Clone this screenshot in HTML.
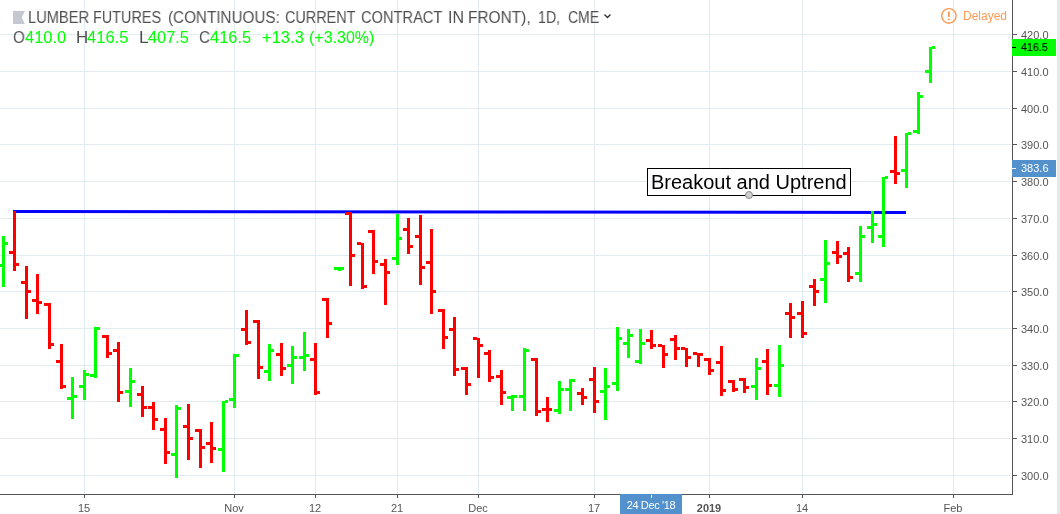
<!DOCTYPE html>
<html><head><meta charset="utf-8"><style>
html,body{margin:0;padding:0;background:#fff;}
body{width:1060px;height:514px;overflow:hidden;position:relative;font-family:"Liberation Sans",sans-serif;}
svg{position:absolute;left:0;top:0;}
.t{position:absolute;white-space:pre;will-change:transform;}
</style></head><body>
<svg width="1060" height="514" viewBox="0 0 1060 514" shape-rendering="crispEdges">
<rect x="84" y="0" width="1" height="493" fill="#e1ecf2"/>
<rect x="234" y="0" width="1" height="493" fill="#e1ecf2"/>
<rect x="315" y="0" width="1" height="493" fill="#e1ecf2"/>
<rect x="397" y="0" width="1" height="493" fill="#e1ecf2"/>
<rect x="478" y="0" width="1" height="493" fill="#e1ecf2"/>
<rect x="594" y="0" width="1" height="493" fill="#e1ecf2"/>
<rect x="709" y="0" width="1" height="493" fill="#e1ecf2"/>
<rect x="802" y="0" width="1" height="493" fill="#e1ecf2"/>
<rect x="953" y="0" width="1" height="493" fill="#e1ecf2"/>
<rect x="0" y="34" width="1011" height="1" fill="#e1ecf2"/>
<rect x="0" y="71" width="1011" height="1" fill="#e1ecf2"/>
<rect x="0" y="108" width="1011" height="1" fill="#e1ecf2"/>
<rect x="0" y="144" width="1011" height="1" fill="#e1ecf2"/>
<rect x="0" y="181" width="1011" height="1" fill="#e1ecf2"/>
<rect x="0" y="218" width="1011" height="1" fill="#e1ecf2"/>
<rect x="0" y="255" width="1011" height="1" fill="#e1ecf2"/>
<rect x="0" y="291" width="1011" height="1" fill="#e1ecf2"/>
<rect x="0" y="328" width="1011" height="1" fill="#e1ecf2"/>
<rect x="0" y="365" width="1011" height="1" fill="#e1ecf2"/>
<rect x="0" y="401" width="1011" height="1" fill="#e1ecf2"/>
<rect x="0" y="438" width="1011" height="1" fill="#e1ecf2"/>
<rect x="0" y="475" width="1011" height="1" fill="#e1ecf2"/>
<line x1="13" y1="211.4" x2="906" y2="212.4" stroke="#0000ff" stroke-width="3" shape-rendering="auto"/>
<rect x="2" y="236" width="3" height="51" fill="#00ff00"/>
<rect x="-2" y="264" width="4" height="3" fill="#00ff00"/>
<rect x="5" y="242" width="3" height="3" fill="#00ff00"/>
<rect x="13" y="211" width="3" height="60" fill="#ff0000"/>
<rect x="9" y="251" width="4" height="3" fill="#ff0000"/>
<rect x="16" y="263" width="3" height="3" fill="#ff0000"/>
<rect x="25" y="266" width="3" height="53" fill="#ff0000"/>
<rect x="21" y="281" width="4" height="3" fill="#ff0000"/>
<rect x="28" y="290" width="3" height="3" fill="#ff0000"/>
<rect x="36" y="274" width="3" height="40" fill="#ff0000"/>
<rect x="32" y="299" width="4" height="3" fill="#ff0000"/>
<rect x="39" y="301" width="3" height="3" fill="#ff0000"/>
<rect x="48" y="303" width="3" height="46" fill="#ff0000"/>
<rect x="44" y="303" width="4" height="3" fill="#ff0000"/>
<rect x="51" y="343" width="3" height="3" fill="#ff0000"/>
<rect x="60" y="344" width="3" height="45" fill="#ff0000"/>
<rect x="56" y="360" width="4" height="3" fill="#ff0000"/>
<rect x="63" y="385" width="3" height="3" fill="#ff0000"/>
<rect x="71" y="377" width="3" height="42" fill="#00ff00"/>
<rect x="67" y="397" width="4" height="3" fill="#00ff00"/>
<rect x="74" y="395" width="3" height="3" fill="#00ff00"/>
<rect x="83" y="370" width="3" height="30" fill="#00ff00"/>
<rect x="79" y="385" width="4" height="3" fill="#00ff00"/>
<rect x="86" y="373" width="3" height="3" fill="#00ff00"/>
<rect x="94" y="327" width="3" height="51" fill="#00ff00"/>
<rect x="90" y="374" width="4" height="3" fill="#00ff00"/>
<rect x="97" y="327" width="3" height="3" fill="#00ff00"/>
<rect x="106" y="335" width="3" height="23" fill="#ff0000"/>
<rect x="102" y="335" width="4" height="3" fill="#ff0000"/>
<rect x="109" y="352" width="3" height="3" fill="#ff0000"/>
<rect x="117" y="342" width="3" height="60" fill="#ff0000"/>
<rect x="113" y="349" width="4" height="3" fill="#ff0000"/>
<rect x="120" y="391" width="3" height="3" fill="#ff0000"/>
<rect x="129" y="368" width="3" height="39" fill="#00ff00"/>
<rect x="125" y="390" width="4" height="3" fill="#00ff00"/>
<rect x="132" y="380" width="3" height="3" fill="#00ff00"/>
<rect x="141" y="386" width="3" height="31" fill="#ff0000"/>
<rect x="137" y="393" width="4" height="3" fill="#ff0000"/>
<rect x="144" y="406" width="3" height="3" fill="#ff0000"/>
<rect x="152" y="402" width="3" height="28" fill="#ff0000"/>
<rect x="148" y="406" width="4" height="3" fill="#ff0000"/>
<rect x="155" y="418" width="3" height="3" fill="#ff0000"/>
<rect x="164" y="418" width="3" height="46" fill="#ff0000"/>
<rect x="160" y="428" width="4" height="3" fill="#ff0000"/>
<rect x="167" y="451" width="3" height="3" fill="#ff0000"/>
<rect x="175" y="405" width="3" height="73" fill="#00ff00"/>
<rect x="171" y="453" width="4" height="3" fill="#00ff00"/>
<rect x="178" y="407" width="3" height="3" fill="#00ff00"/>
<rect x="187" y="404" width="3" height="56" fill="#ff0000"/>
<rect x="183" y="425" width="4" height="3" fill="#ff0000"/>
<rect x="190" y="437" width="3" height="3" fill="#ff0000"/>
<rect x="199" y="429" width="3" height="39" fill="#ff0000"/>
<rect x="195" y="429" width="4" height="3" fill="#ff0000"/>
<rect x="202" y="446" width="3" height="3" fill="#ff0000"/>
<rect x="210" y="422" width="3" height="41" fill="#ff0000"/>
<rect x="206" y="442" width="4" height="3" fill="#ff0000"/>
<rect x="213" y="447" width="3" height="3" fill="#ff0000"/>
<rect x="222" y="401" width="3" height="71" fill="#00ff00"/>
<rect x="218" y="448" width="4" height="3" fill="#00ff00"/>
<rect x="225" y="400" width="3" height="3" fill="#00ff00"/>
<rect x="233" y="354" width="3" height="54" fill="#00ff00"/>
<rect x="229" y="398" width="4" height="3" fill="#00ff00"/>
<rect x="236" y="354" width="3" height="3" fill="#00ff00"/>
<rect x="245" y="310" width="3" height="35" fill="#ff0000"/>
<rect x="241" y="328" width="4" height="3" fill="#ff0000"/>
<rect x="248" y="341" width="3" height="3" fill="#ff0000"/>
<rect x="257" y="320" width="3" height="59" fill="#ff0000"/>
<rect x="253" y="320" width="4" height="3" fill="#ff0000"/>
<rect x="260" y="366" width="3" height="3" fill="#ff0000"/>
<rect x="268" y="344" width="3" height="37" fill="#00ff00"/>
<rect x="264" y="370" width="4" height="3" fill="#00ff00"/>
<rect x="271" y="349" width="3" height="3" fill="#00ff00"/>
<rect x="280" y="343" width="3" height="33" fill="#ff0000"/>
<rect x="276" y="353" width="4" height="3" fill="#ff0000"/>
<rect x="283" y="367" width="3" height="3" fill="#ff0000"/>
<rect x="291" y="346" width="3" height="38" fill="#00ff00"/>
<rect x="287" y="364" width="4" height="3" fill="#00ff00"/>
<rect x="294" y="356" width="3" height="3" fill="#00ff00"/>
<rect x="303" y="332" width="3" height="39" fill="#00ff00"/>
<rect x="299" y="356" width="4" height="3" fill="#00ff00"/>
<rect x="306" y="354" width="3" height="3" fill="#00ff00"/>
<rect x="314" y="343" width="3" height="52" fill="#ff0000"/>
<rect x="310" y="358" width="4" height="3" fill="#ff0000"/>
<rect x="317" y="391" width="3" height="3" fill="#ff0000"/>
<rect x="326" y="298" width="3" height="40" fill="#ff0000"/>
<rect x="322" y="298" width="4" height="3" fill="#ff0000"/>
<rect x="329" y="322" width="3" height="3" fill="#ff0000"/>
<rect x="338" y="267" width="3" height="4" fill="#00ff00"/>
<rect x="334" y="267" width="4" height="3" fill="#00ff00"/>
<rect x="341" y="267" width="3" height="3" fill="#00ff00"/>
<rect x="349" y="212" width="3" height="74" fill="#ff0000"/>
<rect x="345" y="212" width="4" height="3" fill="#ff0000"/>
<rect x="352" y="254" width="3" height="3" fill="#ff0000"/>
<rect x="361" y="243" width="3" height="46" fill="#ff0000"/>
<rect x="357" y="242" width="4" height="3" fill="#ff0000"/>
<rect x="364" y="285" width="3" height="3" fill="#ff0000"/>
<rect x="372" y="230" width="3" height="44" fill="#ff0000"/>
<rect x="368" y="230" width="4" height="3" fill="#ff0000"/>
<rect x="375" y="260" width="3" height="3" fill="#ff0000"/>
<rect x="384" y="259" width="3" height="46" fill="#ff0000"/>
<rect x="380" y="263" width="4" height="3" fill="#ff0000"/>
<rect x="387" y="271" width="3" height="3" fill="#ff0000"/>
<rect x="396" y="214" width="3" height="51" fill="#00ff00"/>
<rect x="392" y="257" width="4" height="3" fill="#00ff00"/>
<rect x="399" y="237" width="3" height="3" fill="#00ff00"/>
<rect x="407" y="218" width="3" height="36" fill="#ff0000"/>
<rect x="403" y="228" width="4" height="3" fill="#ff0000"/>
<rect x="410" y="245" width="3" height="3" fill="#ff0000"/>
<rect x="419" y="215" width="3" height="70" fill="#ff0000"/>
<rect x="415" y="235" width="4" height="3" fill="#ff0000"/>
<rect x="422" y="266" width="3" height="3" fill="#ff0000"/>
<rect x="430" y="229" width="3" height="85" fill="#ff0000"/>
<rect x="426" y="261" width="4" height="3" fill="#ff0000"/>
<rect x="433" y="290" width="3" height="3" fill="#ff0000"/>
<rect x="442" y="309" width="3" height="40" fill="#ff0000"/>
<rect x="438" y="309" width="4" height="3" fill="#ff0000"/>
<rect x="445" y="336" width="3" height="3" fill="#ff0000"/>
<rect x="453" y="317" width="3" height="59" fill="#ff0000"/>
<rect x="449" y="328" width="4" height="3" fill="#ff0000"/>
<rect x="456" y="368" width="3" height="3" fill="#ff0000"/>
<rect x="465" y="367" width="3" height="28" fill="#ff0000"/>
<rect x="461" y="367" width="4" height="3" fill="#ff0000"/>
<rect x="468" y="383" width="3" height="3" fill="#ff0000"/>
<rect x="477" y="338" width="3" height="40" fill="#ff0000"/>
<rect x="473" y="337" width="4" height="3" fill="#ff0000"/>
<rect x="480" y="344" width="3" height="3" fill="#ff0000"/>
<rect x="488" y="350" width="3" height="32" fill="#ff0000"/>
<rect x="484" y="352" width="4" height="3" fill="#ff0000"/>
<rect x="491" y="376" width="3" height="3" fill="#ff0000"/>
<rect x="500" y="370" width="3" height="35" fill="#ff0000"/>
<rect x="496" y="375" width="4" height="3" fill="#ff0000"/>
<rect x="503" y="391" width="3" height="3" fill="#ff0000"/>
<rect x="511" y="395" width="3" height="16" fill="#00ff00"/>
<rect x="507" y="396" width="4" height="3" fill="#00ff00"/>
<rect x="514" y="395" width="3" height="3" fill="#00ff00"/>
<rect x="523" y="348" width="3" height="63" fill="#00ff00"/>
<rect x="519" y="395" width="4" height="3" fill="#00ff00"/>
<rect x="526" y="349" width="3" height="3" fill="#00ff00"/>
<rect x="535" y="358" width="3" height="58" fill="#ff0000"/>
<rect x="531" y="358" width="4" height="3" fill="#ff0000"/>
<rect x="538" y="410" width="3" height="3" fill="#ff0000"/>
<rect x="546" y="397" width="3" height="25" fill="#ff0000"/>
<rect x="542" y="408" width="4" height="3" fill="#ff0000"/>
<rect x="549" y="408" width="3" height="3" fill="#ff0000"/>
<rect x="558" y="381" width="3" height="33" fill="#00ff00"/>
<rect x="554" y="409" width="4" height="3" fill="#00ff00"/>
<rect x="561" y="388" width="3" height="3" fill="#00ff00"/>
<rect x="569" y="379" width="3" height="32" fill="#00ff00"/>
<rect x="565" y="388" width="4" height="3" fill="#00ff00"/>
<rect x="572" y="379" width="3" height="3" fill="#00ff00"/>
<rect x="581" y="388" width="3" height="17" fill="#ff0000"/>
<rect x="577" y="392" width="4" height="3" fill="#ff0000"/>
<rect x="584" y="396" width="3" height="3" fill="#ff0000"/>
<rect x="593" y="367" width="3" height="46" fill="#ff0000"/>
<rect x="589" y="378" width="4" height="3" fill="#ff0000"/>
<rect x="596" y="400" width="3" height="3" fill="#ff0000"/>
<rect x="604" y="368" width="3" height="52" fill="#00ff00"/>
<rect x="600" y="390" width="4" height="3" fill="#00ff00"/>
<rect x="607" y="385" width="3" height="3" fill="#00ff00"/>
<rect x="616" y="327" width="3" height="64" fill="#00ff00"/>
<rect x="612" y="382" width="4" height="3" fill="#00ff00"/>
<rect x="619" y="337" width="3" height="3" fill="#00ff00"/>
<rect x="627" y="329" width="3" height="29" fill="#00ff00"/>
<rect x="623" y="342" width="4" height="3" fill="#00ff00"/>
<rect x="630" y="334" width="3" height="3" fill="#00ff00"/>
<rect x="639" y="329" width="3" height="35" fill="#00ff00"/>
<rect x="635" y="360" width="4" height="3" fill="#00ff00"/>
<rect x="642" y="342" width="3" height="3" fill="#00ff00"/>
<rect x="650" y="330" width="3" height="19" fill="#ff0000"/>
<rect x="646" y="339" width="4" height="3" fill="#ff0000"/>
<rect x="653" y="344" width="3" height="3" fill="#ff0000"/>
<rect x="662" y="345" width="3" height="23" fill="#ff0000"/>
<rect x="658" y="344" width="4" height="3" fill="#ff0000"/>
<rect x="665" y="353" width="3" height="3" fill="#ff0000"/>
<rect x="674" y="335" width="3" height="25" fill="#ff0000"/>
<rect x="670" y="338" width="4" height="3" fill="#ff0000"/>
<rect x="677" y="347" width="3" height="3" fill="#ff0000"/>
<rect x="685" y="348" width="3" height="19" fill="#ff0000"/>
<rect x="681" y="347" width="4" height="3" fill="#ff0000"/>
<rect x="688" y="356" width="3" height="3" fill="#ff0000"/>
<rect x="697" y="353" width="3" height="14" fill="#ff0000"/>
<rect x="693" y="352" width="4" height="3" fill="#ff0000"/>
<rect x="700" y="353" width="3" height="3" fill="#ff0000"/>
<rect x="708" y="358" width="3" height="17" fill="#ff0000"/>
<rect x="704" y="358" width="4" height="3" fill="#ff0000"/>
<rect x="711" y="369" width="3" height="3" fill="#ff0000"/>
<rect x="720" y="346" width="3" height="50" fill="#ff0000"/>
<rect x="716" y="361" width="4" height="3" fill="#ff0000"/>
<rect x="723" y="389" width="3" height="3" fill="#ff0000"/>
<rect x="732" y="380" width="3" height="12" fill="#ff0000"/>
<rect x="728" y="380" width="4" height="3" fill="#ff0000"/>
<rect x="735" y="388" width="3" height="3" fill="#ff0000"/>
<rect x="743" y="378" width="3" height="15" fill="#ff0000"/>
<rect x="739" y="378" width="4" height="3" fill="#ff0000"/>
<rect x="746" y="386" width="3" height="3" fill="#ff0000"/>
<rect x="755" y="358" width="3" height="42" fill="#00ff00"/>
<rect x="751" y="385" width="4" height="3" fill="#00ff00"/>
<rect x="758" y="367" width="3" height="3" fill="#00ff00"/>
<rect x="766" y="349" width="3" height="46" fill="#ff0000"/>
<rect x="762" y="360" width="4" height="3" fill="#ff0000"/>
<rect x="769" y="384" width="3" height="3" fill="#ff0000"/>
<rect x="778" y="345" width="3" height="52" fill="#00ff00"/>
<rect x="774" y="384" width="4" height="3" fill="#00ff00"/>
<rect x="781" y="364" width="3" height="3" fill="#00ff00"/>
<rect x="789" y="303" width="3" height="35" fill="#ff0000"/>
<rect x="785" y="312" width="4" height="3" fill="#ff0000"/>
<rect x="792" y="316" width="3" height="3" fill="#ff0000"/>
<rect x="801" y="301" width="3" height="37" fill="#ff0000"/>
<rect x="797" y="312" width="4" height="3" fill="#ff0000"/>
<rect x="804" y="332" width="3" height="3" fill="#ff0000"/>
<rect x="813" y="279" width="3" height="27" fill="#ff0000"/>
<rect x="809" y="285" width="4" height="3" fill="#ff0000"/>
<rect x="816" y="290" width="3" height="3" fill="#ff0000"/>
<rect x="824" y="240" width="3" height="63" fill="#00ff00"/>
<rect x="820" y="278" width="4" height="3" fill="#00ff00"/>
<rect x="827" y="262" width="3" height="3" fill="#00ff00"/>
<rect x="836" y="241" width="3" height="23" fill="#ff0000"/>
<rect x="832" y="251" width="4" height="3" fill="#ff0000"/>
<rect x="839" y="255" width="3" height="3" fill="#ff0000"/>
<rect x="847" y="247" width="3" height="35" fill="#ff0000"/>
<rect x="843" y="252" width="4" height="3" fill="#ff0000"/>
<rect x="850" y="276" width="3" height="3" fill="#ff0000"/>
<rect x="859" y="226" width="3" height="56" fill="#00ff00"/>
<rect x="855" y="272" width="4" height="3" fill="#00ff00"/>
<rect x="862" y="235" width="3" height="3" fill="#00ff00"/>
<rect x="871" y="211" width="3" height="32" fill="#00ff00"/>
<rect x="867" y="226" width="4" height="3" fill="#00ff00"/>
<rect x="874" y="223" width="3" height="3" fill="#00ff00"/>
<rect x="882" y="177" width="3" height="70" fill="#00ff00"/>
<rect x="878" y="235" width="4" height="3" fill="#00ff00"/>
<rect x="885" y="176" width="3" height="3" fill="#00ff00"/>
<rect x="894" y="136" width="3" height="48" fill="#ff0000"/>
<rect x="890" y="170" width="4" height="3" fill="#ff0000"/>
<rect x="897" y="172" width="3" height="3" fill="#ff0000"/>
<rect x="905" y="133" width="3" height="55" fill="#00ff00"/>
<rect x="901" y="169" width="4" height="3" fill="#00ff00"/>
<rect x="908" y="132" width="3" height="3" fill="#00ff00"/>
<rect x="917" y="92" width="3" height="42" fill="#00ff00"/>
<rect x="913" y="130" width="4" height="3" fill="#00ff00"/>
<rect x="920" y="95" width="3" height="3" fill="#00ff00"/>
<rect x="929" y="47" width="3" height="36" fill="#00ff00"/>
<rect x="925" y="70" width="4" height="3" fill="#00ff00"/>
<rect x="932" y="46" width="3" height="3" fill="#00ff00"/>
<rect x="1012" y="0" width="1" height="495" fill="#555555"/>
<rect x="0" y="494" width="1013" height="1" fill="#555555"/>
<rect x="1013" y="34" width="4" height="1" fill="#555555"/>
<rect x="1013" y="71" width="4" height="1" fill="#555555"/>
<rect x="1013" y="108" width="4" height="1" fill="#555555"/>
<rect x="1013" y="144" width="4" height="1" fill="#555555"/>
<rect x="1013" y="181" width="4" height="1" fill="#555555"/>
<rect x="1013" y="218" width="4" height="1" fill="#555555"/>
<rect x="1013" y="255" width="4" height="1" fill="#555555"/>
<rect x="1013" y="291" width="4" height="1" fill="#555555"/>
<rect x="1013" y="328" width="4" height="1" fill="#555555"/>
<rect x="1013" y="365" width="4" height="1" fill="#555555"/>
<rect x="1013" y="401" width="4" height="1" fill="#555555"/>
<rect x="1013" y="438" width="4" height="1" fill="#555555"/>
<rect x="1013" y="475" width="4" height="1" fill="#555555"/>
<rect x="84" y="495" width="1" height="3" fill="#555555"/>
<rect x="234" y="495" width="1" height="3" fill="#555555"/>
<rect x="315" y="495" width="1" height="3" fill="#555555"/>
<rect x="397" y="495" width="1" height="3" fill="#555555"/>
<rect x="478" y="495" width="1" height="3" fill="#555555"/>
<rect x="594" y="495" width="1" height="3" fill="#555555"/>
<rect x="709" y="495" width="1" height="3" fill="#555555"/>
<rect x="802" y="495" width="1" height="3" fill="#555555"/>
<rect x="953" y="495" width="1" height="3" fill="#555555"/>
<rect x="1057" y="0" width="3" height="514" fill="#e4e8ec"/>
<rect x="1012" y="39" width="44" height="17" fill="#00ff00"/>
<rect x="1012" y="47" width="4" height="1" fill="#000"/>
<rect x="1012" y="160" width="44" height="17" fill="#5291cc"/>
<rect x="1012" y="168" width="4" height="1" fill="#fff"/>
<rect x="620" y="494" width="62" height="20" fill="#5291cc"/>
<rect x="651" y="495" width="1" height="3" fill="#fff"/>
<rect x="647.5" y="168.5" width="203" height="27" fill="#fff" stroke="#000" stroke-width="1"/>
<circle cx="749" cy="195" r="3.5" fill="#cfcfcf" stroke="#8a8a8a" stroke-width="1" shape-rendering="auto"/>
<path d="M13 11 H25 L21.6 17.5 L25 24 H13 Z" fill="#c5c8d0" shape-rendering="auto"/>
<circle cx="948.9" cy="15.85" r="7.2" fill="none" stroke="#ff9a55" stroke-width="1.4" shape-rendering="auto"/>
<rect x="948" y="11.5" width="1.8" height="5.5" fill="#ff9a55" shape-rendering="auto"/>
<rect x="948" y="18.6" width="1.8" height="1.6" fill="#ff9a55" shape-rendering="auto"/>
<path d="M604.5 14.5 L607.5 17.5 L610.5 14.5" fill="none" stroke="#2a2e39" stroke-width="1.3" shape-rendering="auto"/>
</svg>
<div class="t" style="left:28.28px;top:10.00px;font-size:16px;line-height:16px;color:#4f4f4f;font-weight:400;letter-spacing:0px;transform:scaleX(0.9154);transform-origin:0 0;">LUMBER</div>
<div class="t" style="left:93.4px;top:10.00px;font-size:16px;line-height:16px;color:#4f4f4f;font-weight:400;letter-spacing:0px;transform:scaleX(0.9000);transform-origin:0 0;">FUTURES</div>
<div class="t" style="left:167.85px;top:10.00px;font-size:16px;line-height:16px;color:#4f4f4f;font-weight:400;letter-spacing:0px;transform:scaleX(0.9522);transform-origin:0 0;">(CONTINUOUS:</div>
<div class="t" style="left:284.6px;top:10.00px;font-size:16px;line-height:16px;color:#4f4f4f;font-weight:400;letter-spacing:0px;transform:scaleX(0.9000);transform-origin:0 0;">CURRENT</div>
<div class="t" style="left:360.68px;top:10.00px;font-size:16px;line-height:16px;color:#4f4f4f;font-weight:400;letter-spacing:0px;transform:scaleX(0.9159);transform-origin:0 0;">CONTRACT</div>
<div class="t" style="left:448.33px;top:10.00px;font-size:16px;line-height:16px;color:#4f4f4f;font-weight:400;letter-spacing:0px;transform:scaleX(0.9714);transform-origin:0 0;">IN</div>
<div class="t" style="left:468.23px;top:10.00px;font-size:16px;line-height:16px;color:#4f4f4f;font-weight:400;letter-spacing:0px;transform:scaleX(0.9651);transform-origin:0 0;">FRONT),</div>
<div class="t" style="left:537.62px;top:10.00px;font-size:16px;line-height:16px;color:#4f4f4f;font-weight:400;letter-spacing:0px;transform:scaleX(0.8826);transform-origin:0 0;">1D,</div>
<div class="t" style="left:568.13px;top:10.00px;font-size:16px;line-height:16px;color:#4f4f4f;font-weight:400;letter-spacing:0px;transform:scaleX(0.8735);transform-origin:0 0;">CME</div>
<div class="t" style="left:12.65px;top:30.00px;font-size:16px;line-height:16px;color:#4f4f4f;font-weight:400;letter-spacing:0px;transform:scaleX(0.9455);transform-origin:0 0;">O</div>
<div class="t" style="left:24.7px;top:30.00px;font-size:16px;line-height:16px;color:#00ff00;font-weight:400;letter-spacing:0px;transform:scaleX(1.0300);transform-origin:0 0;">410.0</div>
<div class="t" style="left:76.14px;top:30.00px;font-size:16px;line-height:16px;color:#4f4f4f;font-weight:400;letter-spacing:0px;transform:scaleX(1.0556);transform-origin:0 0;">H</div>
<div class="t" style="left:87.4px;top:30.00px;font-size:16px;line-height:16px;color:#00ff00;font-weight:400;letter-spacing:0px;transform:scaleX(1.0325);transform-origin:0 0;">416.5</div>
<div class="t" style="left:139.2px;top:30.00px;font-size:16px;line-height:16px;color:#4f4f4f;font-weight:400;letter-spacing:0px;transform:scaleX(1.1000);transform-origin:0 0;">L</div>
<div class="t" style="left:148.4px;top:30.00px;font-size:16px;line-height:16px;color:#00ff00;font-weight:400;letter-spacing:0px;transform:scaleX(1.0200);transform-origin:0 0;">407.5</div>
<div class="t" style="left:198.95px;top:30.00px;font-size:16px;line-height:16px;color:#4f4f4f;font-weight:400;letter-spacing:0px;transform:scaleX(0.9500);transform-origin:0 0;">C</div>
<div class="t" style="left:209.7px;top:30.00px;font-size:16px;line-height:16px;color:#00ff00;font-weight:400;letter-spacing:0px;transform:scaleX(1.0300);transform-origin:0 0;">416.5</div>
<div class="t" style="left:261.57px;top:30.00px;font-size:16px;line-height:16px;color:#00ff00;font-weight:400;letter-spacing:0px;transform:scaleX(1.0333);transform-origin:0 0;">+13.3</div>
<div class="t" style="left:309.1px;top:30.00px;font-size:16px;line-height:16px;color:#00ff00;font-weight:400;letter-spacing:0px;transform:scaleX(0.9952);transform-origin:0 0;">(+3.30%)</div>
<div class="t" style="left:962.6px;top:10.00px;font-size:12px;line-height:12px;color:#ff9a55;font-weight:400;letter-spacing:0px;">Delayed</div>
<div class="t" style="left:1021px;top:30.00px;font-size:11px;line-height:11px;color:#555555;font-weight:400;letter-spacing:0px;">420.0</div>
<div class="t" style="left:1021px;top:67.00px;font-size:11px;line-height:11px;color:#555555;font-weight:400;letter-spacing:0px;">410.0</div>
<div class="t" style="left:1021px;top:104.00px;font-size:11px;line-height:11px;color:#555555;font-weight:400;letter-spacing:0px;">400.0</div>
<div class="t" style="left:1021px;top:140.00px;font-size:11px;line-height:11px;color:#555555;font-weight:400;letter-spacing:0px;">390.0</div>
<div class="t" style="left:1021px;top:177.00px;font-size:11px;line-height:11px;color:#555555;font-weight:400;letter-spacing:0px;">380.0</div>
<div class="t" style="left:1021px;top:214.00px;font-size:11px;line-height:11px;color:#555555;font-weight:400;letter-spacing:0px;">370.0</div>
<div class="t" style="left:1021px;top:251.00px;font-size:11px;line-height:11px;color:#555555;font-weight:400;letter-spacing:0px;">360.0</div>
<div class="t" style="left:1021px;top:287.00px;font-size:11px;line-height:11px;color:#555555;font-weight:400;letter-spacing:0px;">350.0</div>
<div class="t" style="left:1021px;top:324.00px;font-size:11px;line-height:11px;color:#555555;font-weight:400;letter-spacing:0px;">340.0</div>
<div class="t" style="left:1021px;top:361.00px;font-size:11px;line-height:11px;color:#555555;font-weight:400;letter-spacing:0px;">330.0</div>
<div class="t" style="left:1021px;top:397.00px;font-size:11px;line-height:11px;color:#555555;font-weight:400;letter-spacing:0px;">320.0</div>
<div class="t" style="left:1021px;top:434.00px;font-size:11px;line-height:11px;color:#555555;font-weight:400;letter-spacing:0px;">310.0</div>
<div class="t" style="left:1021px;top:471.00px;font-size:11px;line-height:11px;color:#555555;font-weight:400;letter-spacing:0px;">300.0</div>
<div class="t" style="left:1021px;top:42.00px;font-size:11px;line-height:11px;color:#000;font-weight:400;letter-spacing:0px;-webkit-text-stroke:0.1px #000;transform:scaleX(0.97);transform-origin:0 0;">416.5</div>
<div class="t" style="left:1021px;top:163.00px;font-size:11px;line-height:11px;color:#fff;font-weight:400;letter-spacing:0px;">383.6</div>
<div class="t" style="left:83.5px;top:503.00px;font-size:11px;line-height:11px;color:#555555;font-weight:400;letter-spacing:0px;transform:translateX(-50%);">15</div>
<div class="t" style="left:233.5px;top:503.00px;font-size:11px;line-height:11px;color:#555555;font-weight:400;letter-spacing:0px;transform:translateX(-50%);">Nov</div>
<div class="t" style="left:314.5px;top:503.00px;font-size:11px;line-height:11px;color:#555555;font-weight:400;letter-spacing:0px;transform:translateX(-50%);">12</div>
<div class="t" style="left:396.5px;top:503.00px;font-size:11px;line-height:11px;color:#555555;font-weight:400;letter-spacing:0px;transform:translateX(-50%);">21</div>
<div class="t" style="left:477.5px;top:503.00px;font-size:11px;line-height:11px;color:#555555;font-weight:400;letter-spacing:0px;transform:translateX(-50%);">Dec</div>
<div class="t" style="left:593.5px;top:503.00px;font-size:11px;line-height:11px;color:#555555;font-weight:400;letter-spacing:0px;transform:translateX(-50%);">17</div>
<div class="t" style="left:708.5px;top:503.00px;font-size:11px;line-height:11px;color:#555555;font-weight:700;letter-spacing:0px;transform:translateX(-50%);">2019</div>
<div class="t" style="left:801.5px;top:503.00px;font-size:11px;line-height:11px;color:#555555;font-weight:400;letter-spacing:0px;transform:translateX(-50%);">14</div>
<div class="t" style="left:952.5px;top:503.00px;font-size:11px;line-height:11px;color:#555555;font-weight:400;letter-spacing:0px;transform:translateX(-50%);">Feb</div>
<div class="t" style="left:651px;top:500.00px;font-size:11px;line-height:11px;color:#fff;font-weight:400;letter-spacing:-0.35px;transform:translateX(-50%);">24 Dec '18</div>
<div class="t" style="left:651px;top:172.00px;font-size:20px;line-height:20px;color:#000;font-weight:400;letter-spacing:0px;">Breakout and Uptrend</div>
</body></html>
